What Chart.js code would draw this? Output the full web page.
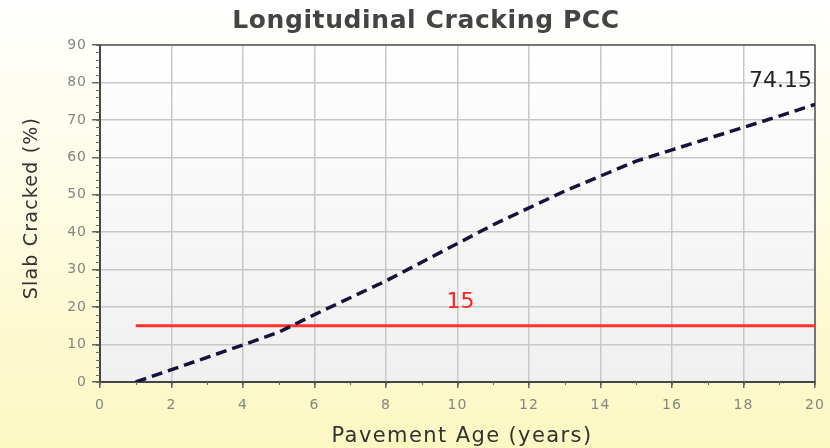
<!DOCTYPE html>
<html>
<head>
<meta charset="utf-8">
<script src="https://cdn.jsdelivr.net/npm/chart.js@4.4.1/dist/chart.umd.min.js"></script>
<style>
    html, body { margin: 0; padding: 0; background: #fff; }
    #wrap { width: 830px; height: 448px; }
</style>
</head>
<body>
<div id="wrap"><canvas id="crackChart" width="830" height="448"></canvas></div>
<script>
// pavement age (years) and predicted slab cracking (%)
const ageYears = [1, 2, 3, 4, 5, 6, 7, 8, 9, 10, 11, 12, 13, 14, 15, 16, 17, 18, 19, 20];
const crackedPct = [0, 3.3, 6.6, 9.9, 13.3, 18, 22.5, 27, 32, 37, 42, 46.5, 51, 55, 59, 62, 65, 68, 71, 74.15];

// design limit
const limitAges = [1, 20];
const limitValue = 15;

const xTicks = { min: 0, max: 20, step: 2 };
const yTicks = { min: 0, max: 90, step: 10 };

const chartTitle = 'Longitudinal Cracking PCC';
const xTitle = 'Pavement Age (years)';
const yTitle = 'Slab Cracked (%)';

const FONT = "'DejaVu Sans', sans-serif";

function drawText(ctx, text, x, y, font, color, align, spacing) {
    ctx.font = font;
    ctx.fillStyle = color;
    ctx.textAlign = align;
    ctx.letterSpacing = spacing || '0px';
    ctx.fillText(text, x, y);
}

// backgrounds, frame, titles, minor ticks and the value labels
const decorPlugin = {
    id: 'decor',
    beforeUpdate(chart) {
        chart.ctx.letterSpacing = '1px';
    },
    beforeDraw(chart) {
        const { ctx, chartArea: a, width, height } = chart;
        ctx.save();
        let g = ctx.createLinearGradient(0, 0, 0, height);
        g.addColorStop(0, '#ffffff');
        g.addColorStop(1, '#fcf8c2');
        ctx.fillStyle = g;
        ctx.fillRect(0, 0, width, height);

        g = ctx.createLinearGradient(0, a.top, 0, a.bottom);
        g.addColorStop(0, '#ffffff');
        g.addColorStop(1, '#f0f0f0');
        ctx.fillStyle = g;
        ctx.fillRect(a.left, a.top, a.right - a.left, a.bottom - a.top);
        ctx.restore();
        ctx.letterSpacing = '1px';
    },
    beforeDatasetsDraw(chart) {
        const { ctx, chartArea: a } = chart;
        ctx.save();
        ctx.strokeStyle = '#555';
        ctx.lineWidth = 1.5;
        ctx.beginPath();
        ctx.moveTo(a.left, a.top);
        ctx.lineTo(a.right, a.top);
        ctx.lineTo(a.right, a.bottom);
        ctx.stroke();
        ctx.restore();
    },
    afterDraw(chart) {
        const { ctx, chartArea: a, scales } = chart;
        ctx.save();
        ctx.strokeStyle = '#666';
        ctx.lineWidth = 1;
        ctx.beginPath();
        for (let v = yTicks.min; v <= yTicks.max; v += 2) {
            const y = Math.round(scales.y.getPixelForValue(v)) + 0.5;
            ctx.moveTo(a.left - 4, y);
            ctx.lineTo(a.left, y);
        }
        for (let v = xTicks.min; v <= xTicks.max; v += 1) {
            const x = Math.round(scales.x.getPixelForValue(v)) + 0.5;
            ctx.moveTo(x, a.bottom);
            ctx.lineTo(x, a.bottom + 3);
        }
        ctx.stroke();

        ctx.textBaseline = 'alphabetic';
        drawText(ctx, chartTitle, 426, 28, 'bold 25px ' + FONT, '#444', 'center', '0.6px');
        drawText(ctx, xTitle, 462, 442, '21px ' + FONT, '#333', 'center', '1.4px');

        ctx.save();
        ctx.translate(32, 208);
        ctx.rotate(-Math.PI / 2);
        ctx.textBaseline = 'middle';
        drawText(ctx, yTitle, 0, 0, '19px ' + FONT, '#333', 'center', '1.2px');
        ctx.restore();

        drawText(ctx, String(limitValue), scales.x.getPixelForValue(10) + 3,
            scales.y.getPixelForValue(limitValue) - 18, '22px ' + FONT, '#ff2020', 'center');

        const last = crackedPct.length - 1;
        drawText(ctx, crackedPct[last].toFixed(2), scales.x.getPixelForValue(ageYears[last]) - 3,
            scales.y.getPixelForValue(crackedPct[last]) - 17, '22px ' + FONT, '#222', 'right');
        ctx.restore();
    }
};

const ctx = document.getElementById('crackChart').getContext('2d');
new Chart(ctx, {
    type: 'line',
    data: {
        datasets: [{
            label: 'Longitudinal Cracking',
            data: ageYears.map((a, i) => ({ x: a, y: crackedPct[i] })),
            borderColor: '#14143a',
            borderWidth: 3.5,
            borderDash: [11, 6],
            pointRadius: 0,
            tension: 0,
            fill: false
        }, {
            label: 'Limit',
            data: limitAges.map(a => ({ x: a, y: limitValue })),
            borderColor: '#ff3030',
            borderWidth: 3,
            pointRadius: 0,
            fill: false
        }]
    },
    options: {
        responsive: false,
        animation: false,
        layout: { padding: { left: 0, right: 15, top: 45, bottom: 0 } },
        plugins: {
            legend: { display: false },
            tooltip: { enabled: false },
            title: { display: false }
        },
        scales: {
            x: {
                type: 'linear',
                min: xTicks.min,
                max: xTicks.max,
                afterFit(scale) {
                    scale.height = 66;
                    scale.paddingRight = 0;
                },
                ticks: {
                    stepSize: xTicks.step,
                    color: '#858585',
                    font: { family: FONT, size: 14 },
                    padding: 9
                },
                grid: { color: '#c8c8c8', lineWidth: 1.5, tickLength: 6, tickColor: '#666' },
                border: { color: '#444', width: 2 }
            },
            y: {
                min: yTicks.min,
                max: yTicks.max,
                afterFit(scale) {
                    scale.width = 100;
                    scale.paddingTop = 0;
                },
                ticks: {
                    stepSize: yTicks.step,
                    color: '#858585',
                    font: { family: FONT, size: 14 },
                    padding: 5
                },
                grid: { color: '#c8c8c8', lineWidth: 1.5, tickLength: 8, tickColor: '#666' },
                border: { color: '#444', width: 2 }
            }
        }
    },
    plugins: [decorPlugin]
});
</script>
</body>
</html>
